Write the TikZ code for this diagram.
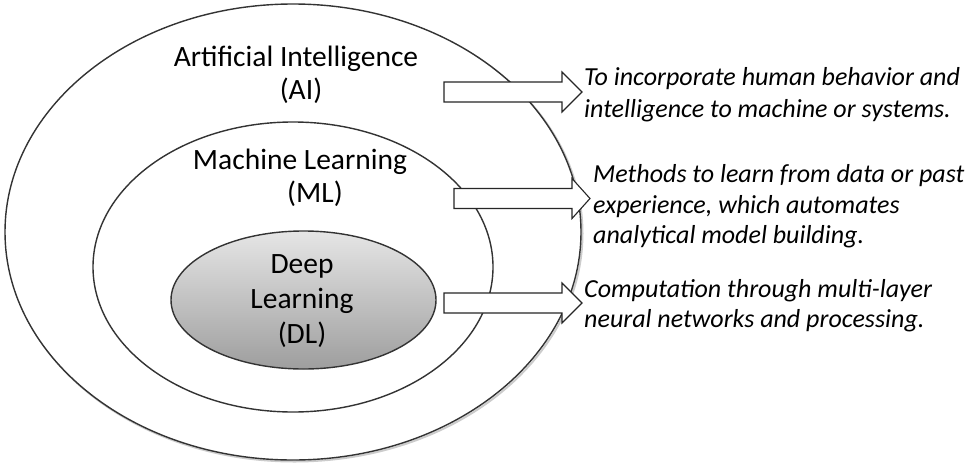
\documentclass[tikz,border=0pt]{standalone}
\usepackage{fontspec}
\setmainfont{Carlito}
\begin{document}
\begin{tikzpicture}[x=1pt,y=-1pt,
  ring/.style={draw=black!80,line width=1.4pt},
  ringshadow/.style={draw=black!20,line width=2pt},
  lbl/.style={inner sep=0pt,anchor=base,font=\fontsize{29.5}{35}\selectfont},
  desc/.style={inner sep=0pt,anchor=base west,font=\fontsize{26}{31}\selectfont\itshape},
  barrow/.style={draw=black!85,fill=white,line width=1.1pt,line join=miter}]
\useasboundingbox (0,0) rectangle (968,474);
\newcommand\myblockarrow[4]{%
  \draw[barrow] (#1,#4-10) -- (#2,#4-10) -- (#2,#4-20) -- (#3,#4) -- (#2,#4+20) -- (#2,#4+10) -- (#1,#4+10) -- cycle;}
% shadows
\draw[ringshadow] (294.5,233.5) ellipse [x radius=288,y radius=228];
\draw[ringshadow] (294.5,268.5) ellipse [x radius=200,y radius=145];
\draw[ringshadow] (305,301.5) ellipse [x radius=132.5,y radius=69];
% ellipses
\draw[ring,fill=white] (293,232) ellipse [x radius=288,y radius=228];
\draw[ring,fill=white] (293,267) ellipse [x radius=200,y radius=145];
\draw[ring,top color=black!10,bottom color=black!38] (303.5,300) ellipse [x radius=132.5,y radius=69];
% labels
\node[lbl] (ai1) at (296,66) {Artificial Intelligence};
\node[lbl] (ai2) at (301,99) {(AI)};
\node[lbl] (ml1) at (300,169) {Machine Learning};
\node[lbl] (ml2) at (315,202) {(ML)};
\node[lbl] (dl1) at (302,273) {Deep};
\node[lbl] (dl2) at (302,308) {Learning};
\node[lbl] (dl3) at (302,343) {(DL)};
% arrows
\myblockarrow{444}{562}{582}{92}
\myblockarrow{454}{572}{590}{198.5}
\myblockarrow{444}{562}{582}{303}
% descriptions
\node[desc] (t1a) at (584,85) {To incorporate human behavior and};
\node[desc] (t1b) at (584,117) {intelligence to machine or systems.};
\node[desc] (t2a) at (593,182) {Methods to learn from data or past};
\node[desc] (t2b) at (593,213) {experience, which automates};
\node[desc] (t2c) at (593,243) {analytical model building.};
\node[desc] (t3a) at (584,297) {Computation through multi-layer};
\node[desc] (t3b) at (584,327) {neural networks and processing.};
\end{tikzpicture}
\end{document}
